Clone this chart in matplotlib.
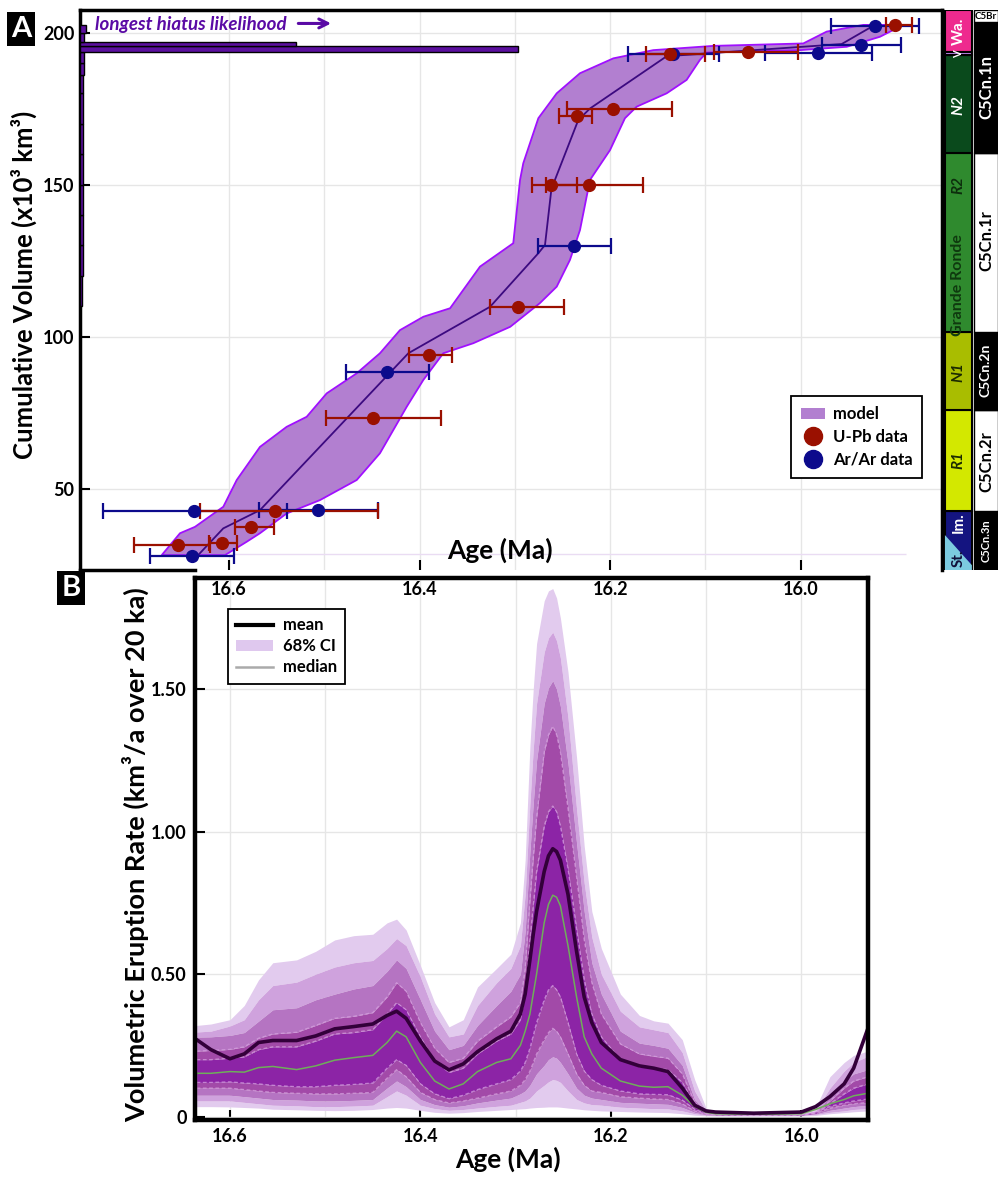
import numpy as np
import matplotlib
matplotlib.use('Agg')
import matplotlib.pyplot as plt
from matplotlib.patches import Patch, Polygon
from matplotlib.lines import Line2D

plt.rcParams['font.family'] = ['Lato', 'DejaVu Sans']
plt.rcParams['font.weight'] = 'bold'
plt.rcParams['axes.labelweight'] = 'bold'

# ---------------- panel A data ----------------
# U-Pb ages (Ma), cumulative volume (x10^3 km^3), older / younger bounds
upb_age = [16.5517, 16.5772, 16.6538, 16.607, 16.4486, 16.3901, 16.2964, 16.2621, 16.2222,
           16.2352, 16.1974, 16.1373, 16.0551, 15.9008]
upb_vol = [42.7, 37.2, 31.4, 32.0, 73.1, 94.0, 109.8, 149.9, 149.9, 172.5, 174.7, 192.8, 193.6, 202.5]
upb_old = [16.6304, 16.5937, 16.6997, 16.6207, 16.4985, 16.4111, 16.3261, 16.2824, 16.2677,
           16.2537, 16.2457, 16.1627, 16.0907, 15.9106]
upb_young = [16.4433, 16.5528, 16.6199, 16.592, 16.3775, 16.3663, 16.2485, 16.2352, 16.1653,
             16.2194, 16.1355, 16.1007, 16.0026, 15.8836]

arar_age = [16.6364, 16.5063, 16.6385, 16.4339, 16.2377, 16.1338, 15.9816, 15.9368, 15.9224]
arar_vol = [42.7, 42.9, 27.8, 88.4, 129.8, 192.8, 193.2, 195.8, 202.2]
arar_old = [16.7325, 16.5685, 16.6829, 16.4776, 16.2754, 16.1816, 16.0378, 15.9774, 15.9683]
arar_young = [16.5395, 16.444, 16.5948, 16.3898, 16.1995, 16.0858, 15.9256, 15.8949, 15.8757]

# model envelope: older edge (bottom -> top) and younger edge (top -> bottom)
band_old_vol = [28.1, 35.3, 37.4, 44.0, 52.8, 63.7, 70.3, 73.6, 81.3, 87.9, 94.5, 102.1, 106.5,
                109.3, 123.0, 130.7, 151.5, 157.0, 171.8, 180.0, 186.6, 191.5, 194.2, 195.6,
                196.4, 200.3, 202.5]
band_old_age = [16.6706, 16.6514, 16.6357, 16.606, 16.5919, 16.5675, 16.5395, 16.5185, 16.4975,
                16.466, 16.4416, 16.4206, 16.3961, 16.368, 16.3366, 16.3017, 16.2946, 16.2912,
                16.2754, 16.2561, 16.2317, 16.1967, 16.1548, 16.0918, 15.9974, 15.9728, 15.9344]
band_young_vol = [202.5, 198.6, 195.3, 194.2, 193.4, 191.0, 184.4, 180.0, 175.6, 171.8, 161.3,
                  151.5, 146.0, 135.0, 125.2, 116.4, 111.0, 103.2, 97.8, 94.5, 85.7, 76.9, 61.6,
                  52.8, 46.2, 41.8, 35.3, 32.5, 28.1]
band_young_age = [15.8925, 15.9169, 15.9518, 16.0009, 16.0988, 16.1058, 16.1198, 16.1407, 16.1722,
                  16.1845, 16.2002, 16.2212, 16.2247, 16.2317, 16.2422, 16.2561, 16.2737, 16.3049,
                  16.3436, 16.3751, 16.3961, 16.4135, 16.4416, 16.466, 16.5045, 16.5395, 16.5675,
                  16.5814, 16.6042]
model_vol = [27.0, 36.9, 42.9, 94.5, 109.8, 127.4, 130.1, 149.3, 151.5, 171.2, 175.0, 192.2,
             196.2, 201.9]
model_age = [16.6357, 16.606, 16.5675, 16.4118, 16.326, 16.2754, 16.2684, 16.2614, 16.258,
             16.2335, 16.2212, 16.1407, 15.9571, 15.9256]

# hiatus likelihood histogram (bin edges in volume, relative likelihood)
hiatus_edges = [110, 120, 130, 140, 150, 160, 170, 180, 186, 190, 193.6, 195.4, 196.9, 199.8, 202.5]
hiatus_like = [0.002, 0.003, 0.003, 0.003, 0.004, 0.004, 0.004, 0.004, 0.005, 0.005, 0.508,
               0.251, 0.005, 0.007]

# stratigraphy strip
unit_names = ['R1', 'N1', 'R2', 'N2', '', 'Wa.']
unit_lo = [42.7, 75.8, 101.6, 160.3, 192.6, 193.7]
unit_hi = [75.8, 101.6, 160.3, 192.6, 193.7, 207.4]
unit_colors = ['#d3e800', '#a9bd00', '#2f8a2e', '#0a4a1c', '#c68af2', '#ee2a8e']
unit_text = ['#1b2a00', '#1b2a00', '#0d2e0d', 'white', 'white', 'white']
imnaha_lo, imnaha_hi = 23.2, 42.7
steens_top = [34.7, 24.8]
chron_names = ['C5Cn.3n', 'C5Cn.2r', 'C5Cn.2n', 'C5Cn.1r', 'C5Cn.1n', 'C5Br']
chron_lo = [23.2, 42.7, 75.8, 101.6, 160.3, 203.6]
chron_hi = [42.7, 75.8, 101.6, 160.3, 203.6, 207.4]
chron_colors = ['black', 'white', 'black', 'white', 'black', 'white']

# ---------------- panel B data ----------------
rate_age = [16.635, 16.62, 16.60, 16.585, 16.57, 16.555, 16.53, 16.51, 16.49, 16.47,
            16.45, 16.435, 16.425, 16.415, 16.40, 16.385, 16.37, 16.355, 16.34, 16.32,
            16.305, 16.295, 16.29, 16.285, 16.2815, 16.278, 16.27, 16.2655, 16.261, 16.257,
            16.253, 16.245, 16.2405, 16.236,
            16.228, 16.22, 16.21, 16.19, 16.17, 16.155, 16.14, 16.125, 16.112, 16.10,
            16.09, 16.05, 16.00, 15.985, 15.97, 15.955, 15.945, 15.93]
rate_u1 = [0.32, 0.325, 0.34, 0.39, 0.48, 0.54, 0.55, 0.58, 0.62, 0.635,
           0.64, 0.68, 0.693, 0.655, 0.53, 0.40, 0.315, 0.34, 0.455, 0.52,
           0.57, 0.68, 0.90, 1.30, 1.50, 1.66, 1.81, 1.845, 1.853, 1.82, 1.75, 1.56, 1.41, 1.26,
           0.95, 0.72, 0.59, 0.43, 0.355, 0.336, 0.328, 0.27, 0.13, 0.03,
           0.012, 0.01, 0.01, 0.03, 0.14, 0.19, 0.215, 0.23]
rate_u2 = [0.297, 0.30, 0.318, 0.34, 0.41, 0.46, 0.472, 0.50, 0.525, 0.54,
           0.548, 0.59, 0.625, 0.60, 0.49, 0.36, 0.28, 0.29, 0.39, 0.47,
           0.52, 0.60, 0.78, 1.10, 1.29, 1.45, 1.63, 1.68, 1.70, 1.67, 1.61, 1.40, 1.24, 1.08,
           0.82, 0.63, 0.50, 0.37, 0.315, 0.305, 0.295, 0.225, 0.09, 0.02,
           0.01, 0.008, 0.009, 0.02, 0.10, 0.16, 0.19, 0.212]
rate_u3 = [0.279, 0.28, 0.285, 0.295, 0.335, 0.375, 0.382, 0.41, 0.43, 0.448,
           0.46, 0.51, 0.55, 0.52, 0.41, 0.30, 0.235, 0.25, 0.32, 0.39,
           0.44, 0.50, 0.65, 0.93, 1.10, 1.25, 1.45, 1.505, 1.53, 1.50, 1.44, 1.24, 1.10, 0.96,
           0.72, 0.54, 0.43, 0.30, 0.258, 0.25, 0.24, 0.18, 0.06, 0.017,
           0.009, 0.007, 0.008, 0.017, 0.07, 0.125, 0.15, 0.165]
rate_u4 = [0.23, 0.232, 0.236, 0.245, 0.275, 0.29, 0.296, 0.32, 0.345, 0.352,
           0.365, 0.42, 0.47, 0.44, 0.33, 0.24, 0.19, 0.205, 0.265, 0.315,
           0.35, 0.40, 0.52, 0.76, 0.91, 1.05, 1.28, 1.34, 1.37, 1.34, 1.28, 1.08, 0.96, 0.84,
           0.62, 0.47, 0.36, 0.255, 0.22, 0.212, 0.205, 0.15, 0.05, 0.015,
           0.008, 0.006, 0.007, 0.015, 0.055, 0.10, 0.125, 0.14]
rate_u5 = [0.20, 0.20, 0.205, 0.21, 0.235, 0.245, 0.245, 0.265, 0.29, 0.295,
           0.305, 0.36, 0.40, 0.375, 0.28, 0.195, 0.155, 0.17, 0.22, 0.265,
           0.29, 0.34, 0.43, 0.62, 0.74, 0.86, 1.02, 1.07, 1.09, 1.07, 1.02, 0.87, 0.765, 0.66,
           0.48, 0.36, 0.28, 0.20, 0.175, 0.17, 0.165, 0.12, 0.042, 0.012,
           0.007, 0.005, 0.006, 0.012, 0.045, 0.08, 0.10, 0.115]
rate_l5 = [0.12, 0.12, 0.122, 0.118, 0.115, 0.11, 0.105, 0.105, 0.11, 0.113,
           0.118, 0.17, 0.20, 0.18, 0.115, 0.08, 0.063, 0.075, 0.095, 0.115,
           0.13, 0.16, 0.19, 0.24, 0.285, 0.33, 0.41, 0.445, 0.46, 0.445, 0.42, 0.33, 0.275, 0.22,
           0.16, 0.13, 0.11, 0.09, 0.08, 0.078, 0.077, 0.058, 0.026, 0.01,
           0.008, 0.006, 0.007, 0.016, 0.036, 0.048, 0.055, 0.062]
rate_l4 = [0.10, 0.10, 0.10, 0.095, 0.09, 0.085, 0.082, 0.08, 0.08, 0.082,
           0.085, 0.135, 0.165, 0.14, 0.085, 0.06, 0.048, 0.055, 0.065, 0.08,
           0.09, 0.11, 0.13, 0.16, 0.19, 0.22, 0.27, 0.295, 0.31, 0.30, 0.28, 0.22, 0.185, 0.15,
           0.11, 0.09, 0.085, 0.07, 0.065, 0.062, 0.06, 0.045, 0.02, 0.008,
           0.006, 0.005, 0.006, 0.012, 0.03, 0.04, 0.045, 0.05]
rate_l3 = [0.075, 0.075, 0.075, 0.07, 0.065, 0.06, 0.058, 0.055, 0.055, 0.057,
           0.06, 0.10, 0.125, 0.105, 0.06, 0.042, 0.033, 0.038, 0.048, 0.058,
           0.065, 0.08, 0.09, 0.11, 0.13, 0.15, 0.18, 0.20, 0.21, 0.205, 0.19, 0.15, 0.125, 0.10,
           0.075, 0.065, 0.06, 0.05, 0.047, 0.045, 0.043, 0.032, 0.015, 0.006,
           0.005, 0.004, 0.005, 0.009, 0.022, 0.03, 0.035, 0.04]
rate_l2 = [0.055, 0.055, 0.055, 0.05, 0.045, 0.04, 0.038, 0.035, 0.035, 0.037,
           0.04, 0.07, 0.09, 0.075, 0.04, 0.028, 0.022, 0.025, 0.03, 0.036,
           0.04, 0.05, 0.055, 0.065, 0.077, 0.09, 0.11, 0.122, 0.13, 0.127, 0.12, 0.09, 0.075, 0.06,
           0.048, 0.042, 0.04, 0.033, 0.03, 0.028, 0.027, 0.02, 0.01, 0.005,
           0.004, 0.003, 0.004, 0.007, 0.015, 0.02, 0.025, 0.028]
rate_l1 = [0.035, 0.035, 0.034, 0.032, 0.03, 0.026, 0.024, 0.022, 0.021, 0.022,
           0.025, 0.03, 0.032, 0.03, 0.022, 0.015, 0.012, 0.014, 0.018, 0.022,
           0.025, 0.027, 0.028, 0.03, 0.031, 0.032, 0.033, 0.034, 0.034, 0.034, 0.033, 0.03, 0.0285, 0.027,
           0.024, 0.022, 0.02, 0.018, 0.016, 0.015, 0.014, 0.01, 0.005, 0.003,
           0.002, 0.002, 0.002, 0.004, 0.01, 0.014, 0.017, 0.02]
rate_mean = [0.27, 0.235, 0.203, 0.22, 0.26, 0.267, 0.267, 0.283, 0.308, 0.316,
             0.325, 0.355, 0.37, 0.345, 0.265, 0.195, 0.164, 0.185, 0.228, 0.273,
             0.30, 0.36, 0.43, 0.55, 0.64, 0.72, 0.86, 0.915, 0.94, 0.93, 0.90, 0.78, 0.68, 0.58,
             0.42, 0.33, 0.26, 0.20, 0.178, 0.17, 0.158, 0.10, 0.04, 0.02,
             0.016, 0.012, 0.016, 0.035, 0.07, 0.115, 0.17, 0.31]
rate_median = [0.152, 0.152, 0.158, 0.156, 0.172, 0.176, 0.165, 0.178, 0.198, 0.207,
               0.215, 0.26, 0.30, 0.28, 0.19, 0.125, 0.097, 0.115, 0.158, 0.19,
               0.203, 0.25, 0.30, 0.36, 0.43, 0.50, 0.68, 0.745, 0.777, 0.77, 0.74, 0.60, 0.51, 0.42,
               0.28, 0.22, 0.17, 0.125, 0.107, 0.103, 0.105, 0.075, 0.035, 0.015,
               0.01, 0.008, 0.01, 0.025, 0.045, 0.06, 0.073, 0.082]

# ---------------- figure ----------------
fig = plt.figure(figsize=(9.98, 11.77), dpi=100)
ax_b = fig.add_axes([0.1954, 0.0484, 0.6743, 0.4605])
ax_a = fig.add_axes([0.0802, 0.5157, 0.8637, 0.4758])
ax_h = fig.add_axes([0.0802, 0.5157, 0.8637, 0.4758], sharey=ax_a)
ax_s = fig.add_axes([0.9449, 0.5157, 0.0551, 0.4758], sharey=ax_a)

grid_c = '#e6e6e6'

# ----- panel A -----
ax_a.set_xlim(16.7563, 15.8518)
ax_a.set_ylim(23.2, 207.4)
ax_a.set_xticks([16.6, 16.4, 16.2, 16.0])
ax_a.set_xticks([16.5, 16.3, 16.1], minor=True)
ax_a.set_yticks([50, 100, 150, 200])
ax_a.grid(True, which='both', color=grid_c, lw=1)
ax_a.set_axisbelow(True)
ax_a.tick_params(direction='in', length=7, width=1.5, labelsize=13, pad=8)
ax_a.tick_params(axis='y', pad=4)
ax_a.tick_params(which='minor', length=0)
for s in ax_a.spines.values():
    s.set_linewidth(2.5)
ax_a.spines['bottom'].set_bounds(16.7563, 16.6357)

ax_a.fill(np.concatenate([band_old_age, band_young_age]),
          np.concatenate([band_old_vol, band_young_vol]),
          facecolor='#b27fd0', edgecolor='#a010ff', lw=1.3, zorder=2)
ax_a.plot(model_age, model_vol, color='#3c0a80', lw=1.3, zorder=3)

upb_age_a = np.array(upb_age)
arar_age_a = np.array(arar_age)
ax_a.errorbar(arar_age, arar_vol, xerr=[arar_age_a - np.array(arar_young), np.array(arar_old) - arar_age_a],
              fmt='o', color='#0c0a8c', ms=8.5, elinewidth=1.6, capsize=6, capthick=1.6, zorder=4)
ax_a.errorbar(upb_age, upb_vol, xerr=[upb_age_a - np.array(upb_young), np.array(upb_old) - upb_age_a],
              fmt='o', color='#9a1000', ms=8.5, elinewidth=1.6, capsize=6, capthick=1.6, zorder=4)

ax_a.text(0.487, 0.036, 'Age (Ma)', transform=ax_a.transAxes, ha='center', va='center', fontsize=19)
ax_a.set_ylabel('Cumulative Volume (x10³ km³)', fontsize=18.5)
ax_a.yaxis.set_label_coords(-0.050, 0.51)
ax_a.text(0.0174, 0.974, 'longest hiatus likelihood', transform=ax_a.transAxes, color='#5a0aa5',
          fontsize=13.5, style='italic', ha='left', va='center')
ax_a.annotate('', xy=(0.2945, 0.976), xytext=(0.2500, 0.976), xycoords='axes fraction',
              arrowprops=dict(arrowstyle='->', color='#5a0aa5', lw=2.2, mutation_scale=16))

leg_a = ax_a.legend(handles=[Patch(facecolor='#b27fd0', edgecolor='none'),
                             Line2D([], [], ls='none', marker='o', color='#9a1000', ms=13),
                             Line2D([], [], ls='none', marker='o', color='#0c0a8c', ms=13)],
                    labels=['model', 'U-Pb data', 'Ar/Ar data'], loc='lower right',
                    bbox_to_anchor=(0.987, 0.150), fancybox=False, framealpha=1,
                    edgecolor='black', fontsize=12, handlelength=1.4, handletextpad=0.5,
                    borderpad=0.6, labelspacing=0.4)
leg_a.get_frame().set_linewidth(1.3)

# hiatus histogram overlay
edges = np.array(hiatus_edges)
ax_h.barh((edges[:-1] + edges[1:]) / 2, hiatus_like, height=np.diff(edges), left=0,
          color='#5b0f9e', edgecolor='black', lw=1)
ax_h.set_xlim(0, 1)
ax_h.axis('off')

# guide line near base
ax_a.hlines(28.6, 16.6, 15.89, color='#eadcf3', lw=1, zorder=1)

# ----- strip -----
ax_s.set_xlim(0, 1)
ax_s.axis('off')
c1, w1 = 0.28, 0.49
c2, w2 = 0.78, 0.44
ax_s.bar([c1], [imnaha_hi - imnaha_lo], bottom=[imnaha_lo], width=w1, color='#141480',
         edgecolor='black', lw=1.5)
ax_s.add_patch(Polygon([[c1 - w1 / 2, imnaha_lo], [c1 + w1 / 2, imnaha_lo],
                        [c1 + w1 / 2, steens_top[1]], [c1 - w1 / 2, steens_top[0]]],
                       closed=True, facecolor='#7ccbe0', edgecolor='none'))
ax_s.bar([c1] * len(unit_lo), np.array(unit_hi) - np.array(unit_lo), bottom=unit_lo, width=w1,
         color=unit_colors, edgecolor='black', lw=1.5)
ax_s.bar([c2] * len(chron_lo), np.array(chron_hi) - np.array(chron_lo), bottom=chron_lo, width=w2,
         color=chron_colors, edgecolor='black', lw=1)

unit_label_y = [59.4, 88.3, 150.0, 176.0, 193.2, 200.3]
for name, yy, tc in zip(unit_names, unit_label_y, unit_text):
    ital = name in ('R1', 'N1', 'R2', 'N2')
    ax_s.text(c1, yy, name, rotation=90, ha='center', va='center', color=tc, fontsize=11,
              style='italic' if ital else 'normal')
ax_s.text(c1, 193.0, 'V', rotation=90, ha='center', va='center', color='white', fontsize=8)
ax_s.text(c1, 117, 'Grande Ronde', rotation=90, ha='center', va='center', color='#0f3a0f', fontsize=11.5)
ax_s.text(c1, 38.7, 'Im.', rotation=90, ha='center', va='center', color='white', fontsize=11)
ax_s.text(c1, 27.0, 'St.', rotation=90, ha='center', va='center', color='#10103a', fontsize=11)

chron_label_y = [33.0, 59.0, 89.0, 131.7, 182.0]
chron_sizes = [8, 12, 10, 12, 12]
for name, yy, col, fs in zip(chron_names[:5], chron_label_y, chron_colors[:5], chron_sizes):
    ax_s.text(c2, yy, name, rotation=90, ha='center', va='center', fontsize=fs,
              color='white' if col == 'black' else 'black')
ax_s.text(0.58, 205.4, 'C5Br', ha='left', va='center', fontsize=7, clip_on=True)

# ----- panel B -----
ax_b.set_xlim(16.6367, 15.930)
ax_b.set_ylim(-0.012, 1.89)
ax_b.set_xticks([16.6, 16.4, 16.2, 16.0])
ax_b.set_xticks([16.5, 16.3, 16.1], minor=True)
ax_b.set_yticks([0, 0.5, 1.0, 1.5])
ax_b.set_yticklabels(['0', '0.50', '1.00', '1.50'])
ax_b.grid(True, which='both', color=grid_c, lw=1)
ax_b.set_axisbelow(True)
ax_b.tick_params(direction='in', length=7, width=1.5, labelsize=13, pad=6)
ax_b.tick_params(which='minor', length=0)
for s in ax_b.spines.values():
    s.set_linewidth(3.2)

band_cols = ['#e2cbee', '#cfa2dd', '#b574c2', '#a24aa8']
ups = [rate_u1, rate_u2, rate_u3, rate_u4, rate_u5]
lows = [rate_l1, rate_l2, rate_l3, rate_l4, rate_l5]
for i, col in enumerate(band_cols):
    ax_b.fill_between(rate_age, ups[i + 1], ups[i], color=col, lw=0)
    ax_b.fill_between(rate_age, lows[i], lows[i + 1], color=col, lw=0)
ax_b.fill_between(rate_age, rate_l5, rate_u5, color='#8c24a6', lw=0)
for curve in (rate_u5, rate_l5, rate_u4, rate_l4):
    ax_b.plot(rate_age, curve, color='#d8a4e2', lw=0.9, ls=(0, (3, 2)), alpha=0.7)
ax_b.plot(rate_age, rate_median, color='#6fae5a', lw=1.1)
ax_b.plot(rate_age, rate_mean, color='#33003a', lw=2.6)

ax_b.set_xlabel('Age (Ma)', fontsize=19)
ax_b.xaxis.set_label_coords(0.465, -0.05)
ax_b.set_ylabel('Volumetric Eruption Rate (km³/a over 20 ka)', fontsize=19.5)
ax_b.yaxis.set_label_coords(-0.068, 0.489)

leg_b = ax_b.legend(handles=[Line2D([], [], color='black', lw=3),
                             Patch(facecolor='#dfc8ee', edgecolor='none'),
                             Line2D([], [], color='#aaaaaa', lw=1.8)],
                    labels=['mean', '68% CI', 'median'], loc='upper left',
                    bbox_to_anchor=(0.036, 0.958), fancybox=False, framealpha=1,
                    edgecolor='black', fontsize=12, handlelength=2.2, handletextpad=0.6,
                    borderpad=0.5, labelspacing=0.3)
leg_b.get_frame().set_linewidth(1.3)

# panel letters
fig.text(0.021, 0.9754, 'A', color='white', fontsize=21, ha='center', va='center',
         bbox=dict(facecolor='black', edgecolor='none', pad=3))
fig.text(0.0711, 0.5004, 'B', color='white', fontsize=21, ha='center', va='center',
         bbox=dict(facecolor='black', edgecolor='none', pad=3))

fig.savefig('out.png', dpi=100)
